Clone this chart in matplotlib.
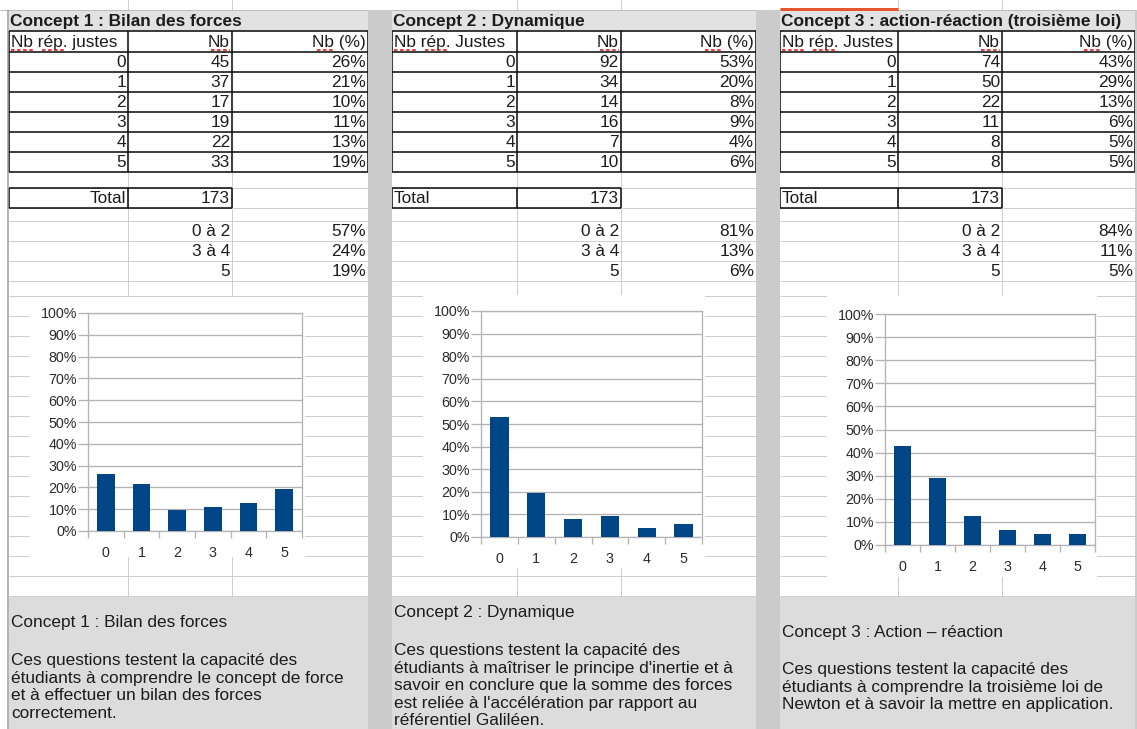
import numpy as np
import matplotlib
matplotlib.use("Agg")
import matplotlib.pyplot as plt
from matplotlib.patches import Rectangle
from matplotlib.ticker import FuncFormatter, FixedLocator

plt.rcParams['font.family'] = ['Liberation Sans', 'DejaVu Sans']

# ---- data ----
titles = ["Concept 1 : Bilan des forces",
          "Concept 2 : Dynamique",
          "Concept 3 : action-réaction (troisième loi)"]
col1_headers = ["Nb rép. justes", "Nb rép. Justes", "Nb rép. Justes"]
nb_justes = [0, 1, 2, 3, 4, 5]
nb_c1 = [45, 37, 17, 19, 22, 33]
nb_c2 = [92, 34, 14, 16, 7, 10]
nb_c3 = [74, 50, 22, 11, 8, 8]
group_labels = ["0 à 2", "3 à 4", "5"]
group_members = [[0, 1, 2], [3, 4], [5]]
notes_title = ["Concept 1 : Bilan des forces",
               "Concept 2 : Dynamique",
               "Concept 3 : Action – réaction"]
notes_c1 = ["Ces questions testent la capacité des",
            "étudiants à comprendre le concept de force",
            "et à effectuer un bilan des forces",
            "correctement."]
notes_c2 = ["Ces questions testent la capacité des",
            "étudiants à maîtriser le principe d'inertie et à",
            "savoir en conclure que la somme des forces",
            "est reliée à l'accélération par rapport au",
            "référentiel Galiléen."]
notes_c3 = ["Ces questions testent la capacité des",
            "étudiants à comprendre la troisième loi de",
            "Newton et à savoir la mettre en application."]

all_nb = [nb_c1, nb_c2, nb_c3]
all_notes = [notes_c1, notes_c2, notes_c3]

# ---- layout (pixels) ----
W, H = 1137, 729
cols = [(9, 128, 232, 368), (392, 517, 621, 756), (780, 898, 1002, 1135)]
chart_box = [(30, 297, 305, 557), (423, 295, 705, 568), (827, 296, 1097, 577)]
plot_box = [(88, 313, 302, 531), (481, 311, 702, 537), (885, 314, 1095, 545)]
note_title_y = [623, 613, 632]
total_left = [False, True, True]
FS = 12.4
TXT = '#1c1c1c'
GRID = '#cfcfcf'
px = 0.72  # one pixel in points

fig = plt.figure(figsize=(W / 100, H / 100), dpi=100, facecolor='white')
bg = fig.add_axes([0, 0, 1, 1])
bg.set_xlim(0, W)
bg.set_ylim(H, 0)
bg.axis('off')


def hl(y, x0, x1, c=GRID, w=1, z=1, **kw):
    bg.plot([x0, x1], [y, y], color=c, lw=w * px, zorder=z, solid_capstyle='butt', **kw)


def vl(x, y0, y1, c=GRID, w=1, z=1):
    bg.plot([x, x], [y0, y1], color=c, lw=w * px, zorder=z, solid_capstyle='butt')


hl(10, 0, W, c='#bdbdbd')
vl(8, 10, H, c='#9a9a9a', w=1.5, z=5)

for k in range(3):
    x0, x1, x2, x3 = cols[k]
    nb = all_nb[k]
    total = sum(nb)
    pct = [v / total for v in nb]

    # top strip column lines
    for x in (x1, x2):
        vl(x, 0, 10)
    # title band
    bg.add_patch(Rectangle((x0, 11), x3 - x0, 20, facecolor='#e2e2e2', edgecolor='none', zorder=0))
    bg.text(x0 + 1, 21, titles[k], fontsize=FS, fontweight='bold', color=TXT, va='center', ha='left', zorder=6)

    # light grid below the table, including the chart zone
    rows_low = [188, 208, 221, 241, 261, 281] + list(range(296, 598, 20))
    for y in rows_low:
        hl(y, x0, x3)
    for x in (x1, x2):
        vl(x, 172, 597)
    vl(x3, 11, 597)

    # header + data rows, black borders
    rows = [31, 52] + [52 + 20 * (i + 1) for i in range(len(nb))]
    for y in rows:
        hl(y, x0, x3, c='#111111', w=1.6, z=4)
    for x in (x0, x1, x2, x3):
        vl(x, 31, rows[-1], c='#111111', w=1.6, z=4)

    yc = 42
    bg.text(x0 + 2, yc, col1_headers[k], fontsize=FS, color=TXT, va='center', ha='left', zorder=6)
    bg.text(x2 - 2, yc, "Nb", fontsize=FS, color=TXT, va='center', ha='right', zorder=6)
    bg.text(x3 - 2, yc, "Nb (%)", fontsize=FS, color=TXT, va='center', ha='right', zorder=6)
    # spell-check underlines
    for a, b in [(x0 + 2, x0 + 26), (x0 + 33, x0 + 57), (x2 - 21, x2 - 2), (x3 - 51, x3 - 34)]:
        hl(49.5, a, b, c='#e01010', w=1.6, z=6, linestyle=(0, (2.2, 1.6)))

    for i, (n, v, p) in enumerate(zip(nb_justes, nb, pct)):
        y = rows[i + 1] + 10.5
        bg.text(x1 - 2, y, str(n), fontsize=FS, color=TXT, va='center', ha='right', zorder=6)
        bg.text(x2 - 2, y, str(v), fontsize=FS, color=TXT, va='center', ha='right', zorder=6)
        bg.text(x3 - 2, y, f"{round(p * 100):.0f}%", fontsize=FS, color=TXT, va='center', ha='right', zorder=6)

    # total box
    for y in (188, 208):
        hl(y, x0, x2, c='#111111', w=1.6, z=4)
    for x in (x0, x1, x2):
        vl(x, 188, 208, c='#111111', w=1.6, z=4)
    if total_left[k]:
        bg.text(x0 + 2, 198.5, "Total", fontsize=FS, color=TXT, va='center', ha='left', zorder=6)
    else:
        bg.text(x1 - 2, 198.5, "Total", fontsize=FS, color=TXT, va='center', ha='right', zorder=6)
    bg.text(x2 - 2, 198.5, str(total), fontsize=FS, color=TXT, va='center', ha='right', zorder=6)

    # grouped shares
    for j, (lab, mem) in enumerate(zip(group_labels, group_members)):
        y = 231.5 + 20 * j
        share = sum(nb[m] for m in mem) / total
        bg.text(x2 - 2, y, lab, fontsize=FS, color=TXT, va='center', ha='right', zorder=6)
        bg.text(x3 - 2, y, f"{round(share * 100):.0f}%", fontsize=FS, color=TXT, va='center', ha='right', zorder=6)

    # white chart object hiding the grid
    cx0, cy0, cx1, cy1 = chart_box[k]
    bg.add_patch(Rectangle((cx0, cy0), cx1 - cx0, cy1 - cy0, facecolor='white', edgecolor='none', zorder=3))

    # notes at the bottom
    bg.add_patch(Rectangle((x0, 597), x3 - x0 + 1, H - 597, facecolor='#dcdcdc', edgecolor='none', zorder=2))
    bg.text(x0 + 2, note_title_y[k], notes_title[k], fontsize=FS, color=TXT, va='center', ha='left', zorder=6)
    for j, line in enumerate(all_notes[k]):
        bg.text(x0 + 2, note_title_y[k] + 37.5 + 17.6 * j, line, fontsize=FS, color=TXT,
                va='center', ha='left', zorder=6)

    # bar chart
    px0, py0, px1, py1 = plot_box[k]
    ax = fig.add_axes([px0 / W, 1 - py1 / H, (px1 - px0) / W, (py1 - py0) / H])
    ax.bar(nb_justes, pct, width=0.5, color='#004586', zorder=3)
    ax.set_xlim(-0.5, 5.5)
    ax.set_ylim(0, 1)
    ax.set_yticks(np.arange(0, 1.001, 0.1))
    ax.yaxis.set_major_formatter(FuncFormatter(lambda v, _: f"{round(v * 100):.0f}%"))
    ax.set_xticks(nb_justes)
    ax.xaxis.set_minor_locator(FixedLocator(np.arange(-0.5, 6, 1.0)))
    ax.yaxis.grid(True, color='#b3b3b3', lw=1.3 * px)
    ax.set_axisbelow(True)
    for s in ax.spines.values():
        s.set_color('#b3b3b3')
        s.set_linewidth(1.3 * px)
    ax.tick_params(axis='y', length=7, width=1.3 * px, color='#b3b3b3', pad=1,
                   labelsize=10.3, labelcolor='#2a2a2a')
    ax.tick_params(axis='x', which='major', length=0, pad=11, labelsize=10.3, labelcolor='#2a2a2a')
    ax.tick_params(axis='x', which='minor', length=5, width=1.3 * px, color='#b3b3b3')

# separators between the sheets
for a, b in [(368, 392), (756, 780)]:
    bg.add_patch(Rectangle((a, 10), b - a, H - 10, facecolor='#cbcbcb', edgecolor='none', zorder=7))
bg.add_patch(Rectangle((1135, 10), 2, H - 10, facecolor='#cbcbcb', edgecolor='none', zorder=7))
# selected sheet marker
hl(8.5, 780, 898, c='#e4572e', w=3, z=8)

fig.savefig("out.png", dpi=100, facecolor='white')
